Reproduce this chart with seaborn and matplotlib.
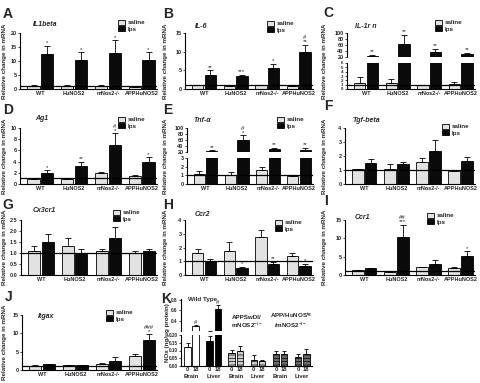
import numpy as np
import pandas as pd
import matplotlib
matplotlib.use("Agg")
import matplotlib.pyplot as plt
import seaborn as sns
from matplotlib.patches import Patch

sns.set_style("white")
plt.rcParams["font.family"] = ["Liberation Sans", "DejaVu Sans"]
plt.rcParams["mathtext.default"] = "regular"
plt.rcParams["hatch.linewidth"] = 0.5

# ---------------- data ----------------
genotypes = ["WT", "HuNOS2", "mNos2-/-", "APPHuNOS2"]
treatments = ["saline", "lps"]

il1b_sal = [1.2, 1.2, 1.2, 0.6]
il1b_sal_err = [0.3, 0.3, 0.2, 0.2]
il1b_lps = [12.6, 10.4, 12.9, 10.4]
il1b_lps_err = [2.9, 2.8, 4.5, 2.8]
il1b_sig = ["*", "*", "*", "*"]

il6_sal = [1.1, 0.8, 1.1, 0.7]
il6_sal_err = [0.1, 0.1, 0.1, 0.1]
il6_lps = [3.8, 3.4, 5.6, 9.9]
il6_lps_err = [1.2, 0.4, 1.2, 2.0]
il6_sig = ["**", "***", "*", "#\n**"]

il1rn_sal = [1.5, 1.35, 1.0, 1.1]
il1rn_sal_err = [1.2, 1.05, 0.0, 0.5]
il1rn_lps = [25, 62, 38, 30]
il1rn_lps_err = [2, 32, 10, 4]
il1rn_sig = ["**", "**", "**", "**"]

ag1_sal = [0.85, 0.85, 1.9, 1.4]
ag1_sal_err = [0.2, 0.15, 0.2, 0.25]
ag1_lps = [2.0, 3.3, 6.9, 3.9]
ag1_lps_err = [0.45, 0.7, 2.2, 0.85]
ag1_sig = ["*", "**", "#\n*", "*"]

tnf_sal = [1.2, 1.05, 1.6, 0.97]
tnf_sal_err = [0.3, 0.35, 0.4, 0.08]
tnf_lps = [22, 60, 30, 28]
tnf_lps_err = [4, 16, 5, 7]
tnf_sig = ["**", "#\n*", "**", "**"]

tgf_sal = [1.05, 1.1, 1.6, 0.9]
tgf_sal_err = [0.05, 0.3, 0.25, 0.1]
tgf_lps = [1.5, 1.4, 2.35, 1.65]
tgf_lps_err = [0.25, 0.15, 0.8, 0.3]

cx3_sal = [1.1, 1.3, 1.1, 1.0]
cx3_sal_err = [0.2, 0.4, 0.1, 0.1]
cx3_lps = [1.5, 0.95, 1.67, 1.07]
cx3_lps_err = [0.35, 0.22, 0.5, 0.13]

ccr2_sal = [1.6, 1.75, 2.8, 1.35]
ccr2_sal_err = [0.3, 0.65, 0.45, 0.25]
ccr2_lps = [1.0, 0.48, 0.8, 0.67]
ccr2_lps_err = [0.2, 0.12, 0.15, 0.16]
ccr2_sig = ["", "*", "**", "*"]

ccr1_sal = [1.3, 0.7, 2.05, 1.8]
ccr1_sal_err = [0.2, 0.0, 0.15, 0.3]
ccr1_lps = [1.8, 10.3, 3.0, 5.2]
ccr1_lps_err = [0.15, 3.4, 1.0, 1.3]
ccr1_sig = ["", "##\n***", "", "*"]

itgax_sal = [1.2, 1.35, 1.7, 3.8]
itgax_sal_err = [0.25, 0.0, 0.2, 0.7]
itgax_lps = [1.6, 1.35, 2.45, 8.2]
itgax_lps_err = [0.05, 0.0, 1.0, 1.6]
itgax_sig = ["", "", "", "###\n*"]

# Panel K (NOx)
k_groups = ["Wild Type", "APPSwDI/\nmNOS2$^{-/-}$", "APP/HuNOS$^{tg}$\n/mNOS2$^{-/-}$"]
k_tissues = ["Brain", "Liver"]
k_times = ["0", "18"]
k_values = [0.12, 0.29, 0.16, 0.62, 0.085, 0.10, 0.04, 0.03, 0.075, 0.08, 0.06, 0.08]
k_errors = [0.03, 0.025, 0.035, 0.08, 0.02, 0.03, 0.03, 0.01, 0.02, 0.015, 0.02, 0.03]
k_sig = ["", "#", "", "#", "", "", "", "", "", "", "", ""]

# ---------------- figure ----------------
W, H = 481, 383
fig = plt.figure(figsize=(W / 100, H / 100), dpi=100)
palette = {"saline": "#e2e2e2", "lps": "#0a0a0a"}
FS_TICK = 4.0


def rect(l, t, r, b):
    return [l / W, 1 - b / H, (r - l) / W, (b - t) / H]


def ftext(px, py, s, **kw):
    fig.text(px / W, 1 - py / H, s, **kw)


def style_ax(ax, show_x=True):
    sns.despine(ax=ax)
    for s in ("left", "bottom"):
        ax.spines[s].set_linewidth(0.8)
        ax.spines[s].set_color("black")
    ax.tick_params(axis="y", length=1.5, width=0.6, pad=1, labelsize=FS_TICK, direction="out", left=True)
    ax.tick_params(axis="x", length=0, pad=1.5, labelsize=FS_TICK)
    for lab in ax.get_yticklabels() + ax.get_xticklabels():
        lab.set_fontweight("bold")
    ax.set_xlabel("")
    ax.set_ylabel("")
    if not show_x:
        ax.spines["bottom"].set_visible(False)
        ax.set_xticks([])


def draw_bars(ax, sal, sal_err, lps, lps_err, ylim, yticks, refline=True, show_x=True):
    df = pd.DataFrame({
        "genotype": genotypes * 2,
        "treatment": ["saline"] * len(genotypes) + ["lps"] * len(genotypes),
        "value": list(sal) + list(lps),
    })
    sns.barplot(data=df, x="genotype", y="value", hue="treatment", order=genotypes,
                hue_order=treatments, palette=palette, edgecolor="black", linewidth=0.6,
                errorbar=None, width=0.8, gap=0.1, legend=False, ax=ax)
    idx = np.arange(len(genotypes))
    z = np.zeros(len(genotypes))
    ax.errorbar(idx - 0.2, sal, yerr=[z, sal_err], fmt="none", ecolor="black",
                elinewidth=0.6, capsize=2.0, capthick=0.6)
    ax.errorbar(idx + 0.2, lps, yerr=[z, lps_err], fmt="none", ecolor="black",
                elinewidth=0.6, capsize=2.0, capthick=0.6)
    if refline:
        ax.axhline(1, color="black", lw=0.9, zorder=5)
    ax.set_xlim(-0.6, 3.45)
    ax.set_ylim(*ylim)
    ax.set_yticks(yticks)
    style_ax(ax, show_x)


def add_sig(ax, vals, errs, sig):
    for i, s in enumerate(sig):
        if s:
            ax.annotate(s, (i + 0.2, vals[i] + errs[i]), xytext=(0, 0.3), textcoords="offset points",
                        ha="center", va="bottom", fontsize=4.3, linespacing=0.75, annotation_clip=False)


def add_legend(ax, px, py):
    handles = [Patch(facecolor=palette[t], edgecolor="black", linewidth=0.6) for t in treatments]
    ax.legend(handles, treatments, loc="upper left", bbox_to_anchor=(px / W, 1 - py / H),
              bbox_transform=fig.transFigure, frameon=False, borderpad=0, borderaxespad=0,
              handlelength=1.1, handleheight=0.75, handletextpad=0.5, labelspacing=0.15,
              prop={"size": 4.5, "weight": "bold"})


def simple_panel(r, sal, sal_err, lps, lps_err, ylim, yticks, sig=None):
    ax = fig.add_axes(rect(*r))
    draw_bars(ax, sal, sal_err, lps, lps_err, ylim, yticks)
    if sig:
        add_sig(ax, lps, lps_err, sig)
    return ax


def broken_panel(r_up, r_lo, sal, sal_err, lps, lps_err, ylim_up, yt_up, ylim_lo, yt_lo, sig):
    axu = fig.add_axes(rect(*r_up))
    draw_bars(axu, sal, sal_err, lps, lps_err, ylim_up, yt_up, refline=False, show_x=False)
    add_sig(axu, lps, lps_err, sig)
    axl = fig.add_axes(rect(*r_lo))
    draw_bars(axl, sal, sal_err, lps, lps_err, ylim_lo, yt_lo)
    return axu, axl


# Row 1
axA = simple_panel((20, 33, 157, 89), il1b_sal, il1b_sal_err, il1b_lps, il1b_lps_err,
                   (0, 20), [0, 5, 10, 15, 20], il1b_sig)
axB = simple_panel((185, 33, 313, 89), il6_sal, il6_sal_err, il6_lps, il6_lps_err,
                   (0, 15), [0, 5, 10, 15], il6_sig)
axCu, axCl = broken_panel((347, 33, 475, 57), (347, 63, 475, 89), il1rn_sal, il1rn_sal_err,
                          il1rn_lps, il1rn_lps_err, (20, 100), [20, 40, 60, 80, 100],
                          (0, 6), [0, 1, 2, 3, 4, 5, 6], il1rn_sig)
for lab in axCl.get_yticklabels():
    lab.set_fontsize(3.2)
# Row 2
axD = simple_panel((20, 128, 157, 184), ag1_sal, ag1_sal_err, ag1_lps, ag1_lps_err,
                   (0, 10), [0, 2, 4, 6, 8, 10], ag1_sig)
axEu, axEl = broken_panel((187, 128, 313, 152), (187, 158, 313, 184), tnf_sal, tnf_sal_err,
                          tnf_lps, tnf_lps_err, (20, 100), [20, 40, 60, 80, 100],
                          (0, 3), [0, 1, 2, 3], tnf_sig)
axF = simple_panel((345, 128, 475, 184), tgf_sal, tgf_sal_err, tgf_lps, tgf_lps_err,
                   (0, 4), [0, 1, 2, 3, 4])
# Row 3
axG = simple_panel((21, 220, 157, 275), cx3_sal, cx3_sal_err, cx3_lps, cx3_lps_err,
                   (0, 2.5), [0, 0.5, 1.0, 1.5, 2.0, 2.5])
axG.set_yticklabels(["0.0", "0.5", "1.0", "1.5", "2.0", "2.5"], fontweight="bold")
axH = simple_panel((185, 220, 313, 275), ccr2_sal, ccr2_sal_err, ccr2_lps, ccr2_lps_err,
                   (0, 4), [0, 1, 2, 3, 4], ccr2_sig)
axI = simple_panel((345, 220, 475, 275), ccr1_sal, ccr1_sal_err, ccr1_lps, ccr1_lps_err,
                   (0, 15), [0, 5, 10, 15], ccr1_sig)
# Row 4
axJ = simple_panel((22, 315, 157, 370), itgax_sal, itgax_sal_err, itgax_lps, itgax_lps_err,
                   (0, 15), [0, 5, 10, 15], itgax_sig)

# Legends
for ax, (px, py) in [(axA, (118, 20)), (axB, (267, 21)), (axCu, (435, 20)),
                     (axD, (118, 117)), (axEu, (277, 117)), (axF, (442, 124)),
                     (axG, (113, 210)), (axH, (275, 220)), (axI, (427, 213)),
                     (axJ, (106, 310))]:
    add_legend(ax, px, py)

# Gene titles
for (px, py, s) in [(33, 24, "IL1beta"), (195, 27, "IL-6"), (355, 26, "IL-1r n"),
                    (35, 119, "Ag1"), (193, 120, "Tnf-\u03b1"), (353, 120, "Tgf-beta"),
                    (33, 211, "Cx3cr1"), (195, 214, "Ccr2"), (355, 218, "Ccr1"),
                    (38, 316, "Itgax")]:
    ftext(px, py, s, fontsize=5, fontstyle="italic", fontweight="bold", va="center", ha="left")

# Panel letters
for (px, py, s) in [(8, 14, "A"), (168, 14, "B"), (328, 13, "C"), (8, 110, "D"),
                    (168, 110, "E"), (328, 106, "F"), (8, 205, "G"), (168, 205, "H"),
                    (326, 201, "I"), (9, 297, "J"), (166, 299, "K")]:
    ftext(px, py, s, fontsize=10, fontweight="bold", va="center", ha="center")

# Y labels
for (px, py) in [(5, 61), (165, 61), (325, 61), (5, 156), (165, 156), (325, 156),
                 (5, 247), (165, 247), (325, 247), (5, 342)]:
    ftext(px, py, "Relative change in mRNA", fontsize=4.5, fontweight="bold",
          rotation=90, va="center", ha="center")

# ---------------- Panel K ----------------
k_pos = []
k_tick_lab = []
pair_centers = []
for g in range(len(k_groups)):
    for t in range(len(k_tissues)):
        p = (g * 2 + t) * 2.7
        pair_centers.append(p + 0.5)
        for h in range(len(k_times)):
            k_pos.append(p + h)
            k_tick_lab.append(k_times[h])
kdf = pd.DataFrame({"pos": k_pos, "value": k_values})

k_face = ["white", "white", "black", "black",
          "#d0d0d0", "#d0d0d0", "#d0d0d0", "#d0d0d0",
          "#6a6a6a", "#6a6a6a", "#6a6a6a", "#6a6a6a"]
k_hatch = [None] * 4 + ["-----"] * 8

axKu = fig.add_axes(rect(181, 299, 312, 331))
axKl = fig.add_axes(rect(181, 335, 312, 366))
for ax in (axKu, axKl):
    sns.barplot(data=kdf, x="pos", y="value", native_scale=True, color="white",
                edgecolor="black", linewidth=0.6, errorbar=None, width=0.8, ax=ax)
    for patch, fc, ht in zip(ax.patches, k_face, k_hatch):
        patch.set_facecolor(fc)
        if ht:
            patch.set_hatch(ht)
    ax.errorbar(k_pos, k_values, yerr=[np.zeros(len(k_values)), k_errors], fmt="none",
                ecolor="black", elinewidth=0.6, capsize=1.4, capthick=0.6)
    ax.set_xlim(-0.8, max(k_pos) + 0.7)

axKu.set_ylim(0.2, 0.82)
axKu.set_yticks([0.4, 0.6, 0.8])
axKu.set_yticklabels(["0.4", "0.6", "0.8"])
style_ax(axKu, show_x=False)
axKl.set_ylim(0, 0.2)
axKl.set_yticks([0, 0.05, 0.10, 0.15, 0.20])
axKl.set_yticklabels(["0.00", "0.05", "0.10", "0.15", "0.20"])
axKl.set_xticks(k_pos)
axKl.set_xticklabels(k_tick_lab)
style_ax(axKl, show_x=True)
axKl.tick_params(axis="x", pad=0.8)
for lab in axKl.get_yticklabels() + axKu.get_yticklabels():
    lab.set_fontsize(3.3)
for lab in axKl.get_xticklabels():
    lab.set_fontsize(4.2)

for i, s in enumerate(k_sig):
    if s:
        axKu.annotate(s, (k_pos[i], k_values[i] + k_errors[i]), xytext=(0, 0.3),
                      textcoords="offset points", ha="center", va="bottom", fontsize=4.3,
                      annotation_clip=False)

tr = axKl.get_xaxis_transform()
for c, tis in zip(pair_centers, k_tissues * len(k_groups)):
    axKl.text(c, -0.26, tis, transform=tr, ha="center", va="top", fontsize=4.3, fontweight="bold")

tru = axKu.get_xaxis_transform()
axKu.text((pair_centers[0] + pair_centers[1]) / 2, 1.0, k_groups[0], transform=tru,
          ha="center", va="center", fontsize=4.5, fontweight="bold")
for gi in (1, 2):
    c = (pair_centers[2 * gi] + pair_centers[2 * gi + 1]) / 2
    axKu.text(c, 0.02, k_groups[gi], transform=tru, ha="center", va="bottom",
              fontsize=4.5, fontweight="bold", linespacing=1.1)

ftext(167, 333, "NOx (ng/\u03bcg protein)", fontsize=4.5, fontweight="bold",
      rotation=90, va="center", ha="center")

fig.savefig("out.png", dpi=100)
